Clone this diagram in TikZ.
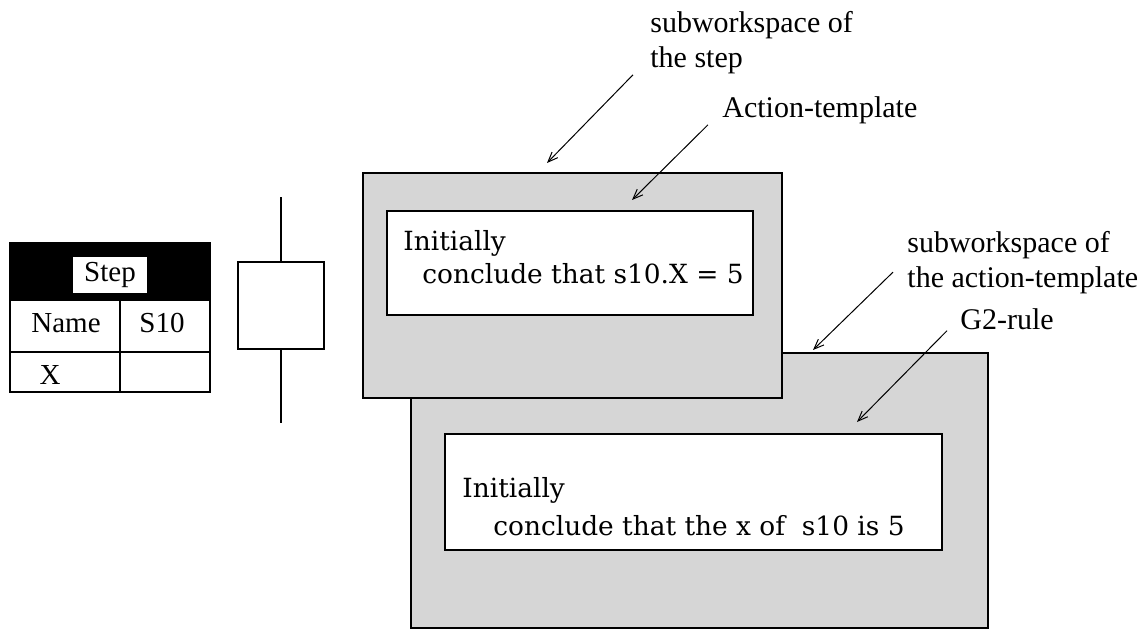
\documentclass[tikz,border=0pt]{standalone}
\usepackage{fontspec}
\setmainfont{Liberation Serif}
\newfontfamily\rulefont{DejaVu Serif}
\usetikzlibrary{arrows.meta}
\tikzset{
  wsfill/.style={draw, line width=0.75pt, fill=black!16},
  rulebox/.style={draw, line width=0.75pt, fill=white},
  callout/.style={font=\fontsize{15}{17.5}\selectfont, align=left, inner sep=0pt, anchor=base west},
  ruletext/.style={font=\rulefont\fontsize{13.2}{16.5}\selectfont, align=left, inner sep=0pt, anchor=base west},
  pointer/.style={-{Straight Barb[length=5pt,width=4pt]}, line width=0.5pt},
  cell/.style={font=\fontsize{14.5}{17}\selectfont, inner sep=0pt, anchor=base},
}
\begin{document}
\begin{tikzpicture}[x=0.5pt, y=-0.5pt]
    \useasboundingbox (0,0) rectangle (1145,630);

    % Tabelle des Schritts
    \fill (10,243) rectangle (210,300);
    \draw[line width=0.75pt] (10,243) rectangle (210,392);
    \draw[line width=0.75pt] (10,300) -- (210,300) (10,352) -- (210,352) (120,300) -- (120,392);
    \node[fill=white, minimum width=37pt, minimum height=18pt, inner sep=0pt,
          font=\fontsize{14.5}{17}\selectfont] (stephead) at (110,275) {Step};
    \node[cell] (namekey) at (66,333) {Name};
    \node[cell] (nameval) at (162,333) {S10};
    \node[cell] (xkey) at (50,385) {X};

    % Schrittsymbol
    \node[draw, line width=1pt, minimum width=43pt, minimum height=43.5pt, inner sep=0pt] (stepsym) at (281,306) {};
    \coordinate (symtop) at (281,197);
    \coordinate (symbot) at (281,423);
    \draw[line width=0.75pt] (stepsym.north) -- (symtop);
    \draw[line width=0.75pt] (stepsym.south) -- (symbot);

    % Unterarbeitsbereich der Aktionsvorlage
    \draw[wsfill] (411,353) rectangle (988,628);
    \draw[rulebox] (445,434) rectangle (942,550);
    \node[ruletext, font=\rulefont\fontsize{13.2}{19}\selectfont] (g2text) at (462,535)
        {Initially\\\hspace*{15.5pt}conclude that the x of~~s10 is 5};

    % Unterarbeitsbereich des Schritts
    \draw[wsfill] (363,173) rectangle (782,398);
    \draw[rulebox] (387,211) rectangle (753,315);
    \node[ruletext] (acttext) at (403,284)
        {Initially\\\hspace*{9.5pt}conclude that s10.X = 5};

    % Beschriftungen
    \node[callout] (stepws) at (650,68) {subworkspace of\\the step};
    \node[callout] (acttpl) at (722,118) {Action-template};
    \node[callout] (actws) at (907,288) {subworkspace of\\the action-template};
    \node[callout] (g2lbl) at (960,330) {G2-rule};

    \coordinate (stepwstip) at (547,163);
    \coordinate (acttpltip) at (632,200);
    \coordinate (actwstip) at (813,350);
    \coordinate (g2tip) at (857,422);

    \draw[pointer] ([xshift=-8.5pt]stepws.south west) -- (stepwstip);
    \draw[pointer] ([xshift=-7pt]acttpl.south west) -- (acttpltip);
    \draw[pointer] ([xshift=-7pt,yshift=-4.5pt]actws.west) -- (actwstip);
    \draw[pointer] ([xshift=-6.5pt]g2lbl.south west) -- (g2tip);
\end{tikzpicture}
\end{document}
